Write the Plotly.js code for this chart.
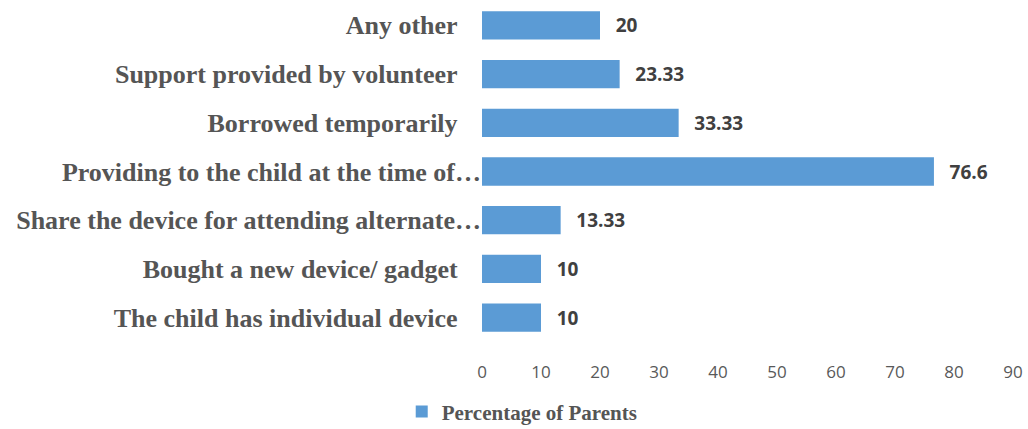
<!DOCTYPE html>
<html><head><meta charset="utf-8">
<script src="https://cdn.plot.ly/plotly-3.0.1.min.js"></script>
<style>html,body{margin:0;padding:0;background:#fff}</style>
</head><body>
<div id="chart" style="width:1028px;height:429px"></div>
<script>
const categories = [
  "Any other",
  "Support provided by volunteer",
  "Borrowed temporarily",
  "Providing to the child at the time of…",
  "Share the device for attending alternate…",
  "Bought a new device/ gadget",
  "The child has individual device"
];
const values = [20, 23.33, 33.33, 76.6, 13.33, 10, 10];
const valueLabels = ["20", "23.33", "33.33", "76.6", "13.33", "10", "10"];
const seriesName = "Percentage of Parents";
const xTicks = [0, 10, 20, 30, 40, 50, 60, 70, 80, 90];

// truncated labels sit closer to the bars than the others
const tickText = categories.map(c => c.endsWith('…') ? c : c + '\u2002\u2009\u2009');

const trace = {
  type: 'bar',
  orientation: 'h',
  y: categories,
  x: values,
  name: seriesName,
  text: valueLabels.map(v => '\u2002\u2009' + v),
  texttemplate: '%{text}',
  textposition: 'outside',
  cliponaxis: false,
  textfont: {family: 'Open Sans, Liberation Sans, sans-serif', size: 19, color: '#404040', weight: 'bold'},
  marker: {color: '#5B9BD5'},
  hoverinfo: 'skip'
};

const layout = {
  width: 1028, height: 429,
  margin: {l: 482, r: 15, t: 1, b: 87},
  paper_bgcolor: '#fff', plot_bgcolor: '#fff',
  bargap: 0.42,
  showlegend: true,
  legend: {
    orientation: 'h', xref: 'container', yref: 'container',
    x: 0.508, xanchor: 'center', y: 0.04, yanchor: 'middle',
    font: {family: 'Liberation Serif, Times New Roman, serif', size: 21, color: '#555555', weight: 'bold'},
    itemwidth: 30
  },
  xaxis: {
    range: [0, 90], tickvals: xTicks, ticktext: xTicks.map(String),
    showgrid: false, zeroline: false, showline: false,
    ticks: '', ticklabelstandoff: 18,
    tickfont: {family: 'Open Sans, Liberation Sans, sans-serif', size: 17, color: '#595959'}
  },
  yaxis: {
    autorange: 'reversed', type: 'category',
    tickvals: categories, ticktext: tickText,
    showgrid: false, zeroline: false, showline: false, ticks: '',
    ticklabelstandoff: 0,
    tickfont: {family: 'Liberation Serif, Times New Roman, serif', size: 26, color: '#555555', weight: 'bold'}
  }
};

Plotly.newPlot('chart', [trace], layout, {displayModeBar: false, staticPlot: true});
</script>
</body></html>
